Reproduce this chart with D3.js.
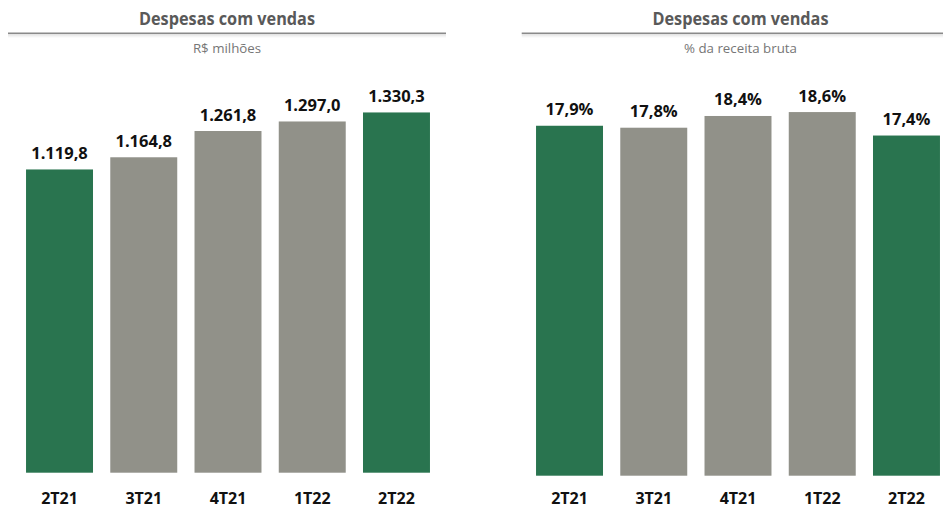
<!DOCTYPE html>
<html>
<head>
<meta charset="utf-8">
<script src="https://cdn.jsdelivr.net/npm/d3@7"></script>
<style>
  html, body { margin: 0; padding: 0; background: #fff; }
  svg { display: block; }
  text { font-family: "Open Sans", "Noto Sans", sans-serif; }
</style>
</head>
<body>
<svg id="chart" width="943" height="508"></svg>
<script>
const categories = ["2T21", "3T21", "4T21", "1T22", "2T22"];
const valuesBRL = [1119.8, 1164.8, 1261.8, 1297.0, 1330.3];
const valuesPct = [17.9, 17.8, 18.4, 18.6, 17.4];
const highlight = [true, false, false, false, true];
const labelsBRL = ["1.119,8", "1.164,8", "1.261,8", "1.297,0", "1.330,3"];
const labelsPct = ["17,9%", "17,8%", "18,4%", "18,6%", "17,4%"];
const title = "Despesas com vendas";
const subtitleLeft = "R$ milhões";
const subtitleRight = "% da receita bruta";

const GREEN = "#29744f";
const GRAY = "#919189";

const svg = d3.select("#chart");

const defs = svg.append("defs");
const grad = defs.append("linearGradient").attr("id", "shadow").attr("x1", 0).attr("x2", 0).attr("y1", 0).attr("y2", 1);
grad.append("stop").attr("offset", "0%").attr("stop-color", "#000").attr("stop-opacity", 0.12);
grad.append("stop").attr("offset", "100%").attr("stop-color", "#000").attr("stop-opacity", 0);

function panel(cfg) {
  const g = svg.append("g");
  const x = d3.scaleBand().domain(categories).range(cfg.xRange).paddingInner(0.205).paddingOuter(0.1025);
  const y = d3.scaleLinear().domain(cfg.yDomain).range([cfg.base, cfg.top]);

  // title
  g.append("text").attr("x", cfg.titleX).attr("y", 25).attr("text-anchor", "middle")
    .attr("font-size", 17).attr("font-weight", 700).attr("fill", "#595959")
    .attr("textLength", 176).attr("lengthAdjust", "spacingAndGlyphs")
    .text(title);
  g.append("rect").attr("x", cfg.lineX[0]).attr("y", 34).attr("width", cfg.lineX[1] - cfg.lineX[0]).attr("height", 4)
    .attr("fill", "url(#shadow)");
  g.append("line").attr("x1", cfg.lineX[0]).attr("x2", cfg.lineX[1]).attr("y1", 33.3).attr("y2", 33.3)
    .attr("stroke", "#8a8a8a").attr("stroke-width", 1.5);
  g.append("text").attr("x", cfg.titleX).attr("y", 52.5).attr("text-anchor", "middle")
    .attr("font-size", 13.3).attr("fill", "#767676")
    .text(cfg.subtitle);

  // bars
  g.selectAll("rect.bar").data(cfg.values).join("rect").attr("class", "bar")
    .attr("x", (d, i) => x(categories[i]))
    .attr("width", x.bandwidth())
    .attr("y", d => y(d))
    .attr("height", d => y(0) - y(d))
    .attr("fill", (d, i) => highlight[i] ? GREEN : GRAY);

  // value labels
  g.selectAll("text.val").data(cfg.values).join("text").attr("class", "val")
    .attr("x", (d, i) => x(categories[i]) + x.bandwidth() / 2)
    .attr("y", d => y(d) - cfg.labelGap)
    .attr("text-anchor", "middle")
    .attr("font-size", 16.5).attr("font-weight", 700).attr("fill", "#111")
    .text((d, i) => cfg.labels[i]);

  // axis
  const axis = d3.axisBottom(x).tickSize(0).tickPadding(0);
  const ax = g.append("g").attr("transform", `translate(0,${cfg.catY})`).call(axis);
  ax.select(".domain").remove();
  ax.selectAll("text").attr("font-size", 16).attr("font-weight", 700).attr("fill", "#111")
    .attr("dy", 0).attr("font-family", '"Open Sans", "Noto Sans", sans-serif');
}

panel({
  xRange: [17.4, 438.6], yDomain: [0, 1400], base: 472.7, top: 472.7 - 1400 * 0.2708,
  values: valuesBRL, labels: labelsBRL, subtitle: subtitleLeft,
  titleX: 227, lineX: [8, 446], labelGap: 10, catY: 503.5
});
panel({
  xRange: [527.4, 948.6], yDomain: [0, 20], base: 475.7, top: 475.7 - 20 * 19.55,
  values: valuesPct, labels: labelsPct, subtitle: subtitleRight,
  titleX: 740.5, lineX: [521.7, 943], labelGap: 10.5, catY: 504
});
</script>
</body>
</html>
